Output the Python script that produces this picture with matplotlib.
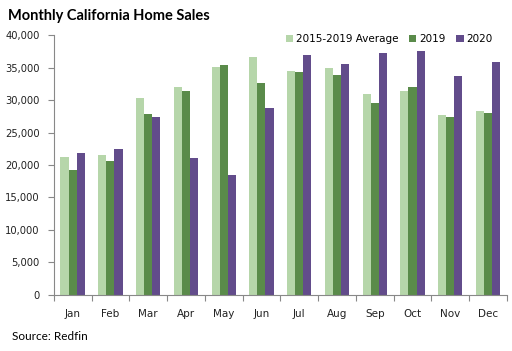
import numpy as np
import matplotlib
matplotlib.use('Agg')
import matplotlib.pyplot as plt
from matplotlib.ticker import FuncFormatter

# Dati
months = ['Jan', 'Feb', 'Mar', 'Apr', 'May', 'Jun', 'Jul', 'Aug', 'Sep', 'Oct', 'Nov', 'Dec']
avg_2015_2019 = [21200, 21600, 30300, 32000, 35100, 36600, 34500, 34900, 30900, 31400, 27700, 28300]
sales_2019 = [19300, 20600, 27800, 31400, 35400, 32600, 34300, 33900, 29500, 32000, 27400, 28000]
sales_2020 = [21800, 22400, 27400, 21000, 18400, 28800, 37000, 35600, 37300, 37600, 33700, 35900]
series_labels = ['2015-2019 Average', '2019', '2020']
colors = ['#b6d6aa', '#5a8b4a', '#624c8b']

plt.rcParams['font.family'] = 'DejaVu Sans'

fig = plt.figure(figsize=(5.12, 3.51), dpi=100)
ax = fig.add_axes([0.105, 0.16, 0.885, 0.74])

x = np.arange(len(months))
w = 0.215
for i, (vals, lab, col) in enumerate(zip([avg_2015_2019, sales_2019, sales_2020], series_labels, colors)):
    ax.bar(x + (i - 1) * w, vals, width=w, color=col, label=lab)

ax.set_xlim(-0.5, len(months) - 0.5)
ax.set_ylim(0, 40000)
ax.set_yticks(np.arange(0, 40001, 5000))
ax.yaxis.set_major_formatter(FuncFormatter(lambda v, p: f'{int(v):,}'))

# tick dell'asse x tra le categorie
ax.set_xticks(np.arange(-0.5, len(months), 1))
ax.set_xticklabels([])
ax.set_xticks(x, minor=True)
ax.set_xticklabels(months, minor=True)
ax.tick_params(axis='x', which='minor', length=0, pad=10, labelsize=7.5, colors='#222222')
ax.tick_params(axis='x', which='major', length=4, color='#888888')
ax.tick_params(axis='y', length=4, color='#888888', labelsize=7.2, labelcolor='#222222', pad=6)

for s in ['top', 'right']:
    ax.spines[s].set_visible(False)
for s in ['left', 'bottom']:
    ax.spines[s].set_color('#888888')

ax.legend(loc='upper right', bbox_to_anchor=(0.99, 1.04), ncol=3, frameon=False, fontsize=7.5,
          handlelength=0.7, handleheight=0.7, handletextpad=0.3, columnspacing=1.0)

fig.text(0.016, 0.955, 'Monthly California Home Sales', fontsize=10.5, fontweight='bold',
         family='Lato', va='center')
fig.text(0.023, 0.04, 'Source: Redfin', fontsize=8.5, family='Lato', va='center')

fig.savefig('out.png', dpi=100)
